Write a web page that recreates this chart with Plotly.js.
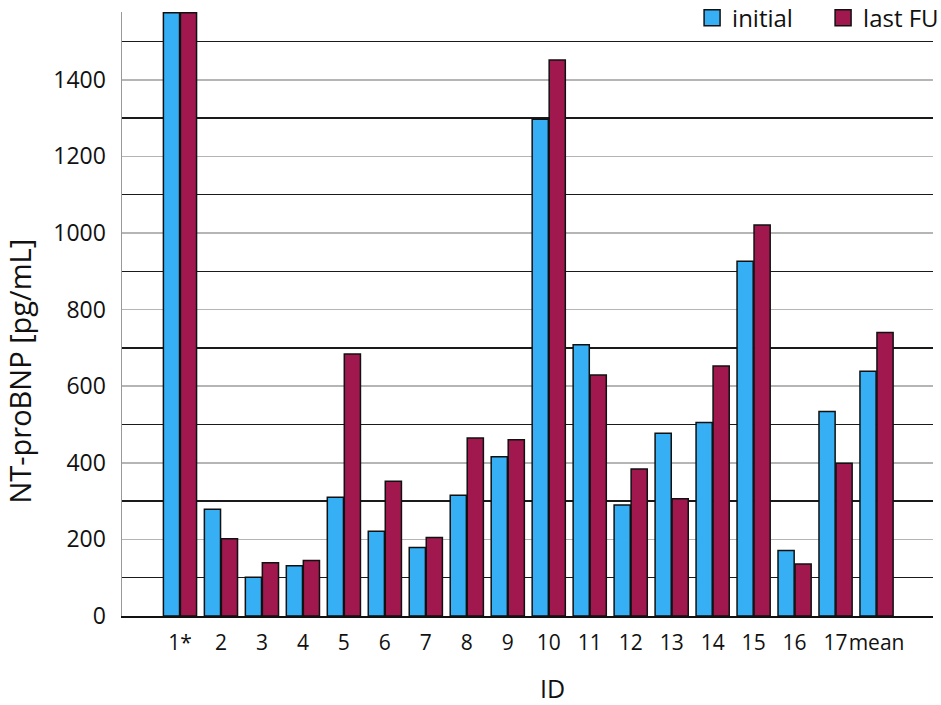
<!DOCTYPE html>
<html>
<head>
<meta charset="utf-8">
<script src="https://cdn.plot.ly/plotly-3.0.1.min.js"></script>
<style>html,body{margin:0;padding:0;background:#fff;}#chart{width:941px;height:705px;}</style>
</head>
<body>
<div id="chart"></div>
<script>
// Data
const ids = ["1*", "2", "3", "4", "5", "6", "7", "8", "9", "10", "11", "12", "13", "14", "15", "16", "17", "mean"];
const initialValues = [1575, 279, 101, 131, 310, 221, 179, 315, 416, 1297, 708, 290, 477, 505, 926, 171, 534, 639];
const lastFUValues  = [1575, 202, 139, 145, 684, 352, 205, 465, 460, 1452, 629, 384, 306, 653, 1021, 136, 399, 740];
const seriesNames = ["initial", "last FU"];
const yTickVals = [0, 200, 400, 600, 800, 1000, 1200, 1400];

const blue = "#36AFF5";
const red = "#A0184E";
const FONT = "Open Sans, Liberation Sans, sans-serif";

const traces = [
  {type: "bar", name: seriesNames[0], x: ids, y: initialValues, showlegend: false,
   marker: {color: blue, line: {color: "#111", width: 1.5}}},
  {type: "bar", name: seriesNames[1], x: ids, y: lastFUValues, showlegend: false,
   marker: {color: red, line: {color: "#111", width: 1.5}}},
  // legend entries
  {type: "scatter", mode: "markers", name: seriesNames[0], x: [null], y: [null],
   marker: {symbol: "square", size: 17, color: blue, line: {color: "#111", width: 1.5}}},
  {type: "scatter", mode: "markers", name: seriesNames[1], x: [null], y: [null],
   marker: {symbol: "square", size: 17, color: red, line: {color: "#111", width: 1.5}}}
];

const layout = {
  width: 941, height: 705,
  margin: {l: 122, r: 8, t: 12, b: 89, autoexpand: false},
  paper_bgcolor: "#fff", plot_bgcolor: "#fff",
  font: {family: FONT, size: 23, color: "#111"},
  barmode: "group",
  bargap: 0.17,
  bargroupgap: 0.05,
  showlegend: true,
  legend: {orientation: "h", x: 1.026, xanchor: "right", y: 1.027, yanchor: "top",
           entrywidth: 86, entrywidthmode: "pixels",
           bgcolor: "rgba(0,0,0,0)", font: {family: FONT, size: 24, color: "#111"},
           itemsizing: "trace", traceorder: "normal"},
  xaxis: {type: "category", range: [-1.415, 18.378], showgrid: false, zeroline: false,
          showline: true, linecolor: "#111", linewidth: 1.5, ticks: "", tickangle: 0,
          ticklabelstandoff: 7, tickfont: {family: FONT, size: 21, color: "#111"}, fixedrange: true},
  yaxis: {range: [0, 1577], tickvals: yTickVals, showgrid: true, gridcolor: "#b5b5b5", gridwidth: 1.5,
          zeroline: false, showline: true, linecolor: "#999", linewidth: 1.5, ticks: "",
          ticklabelstandoff: 10, tickfont: {family: FONT, size: 23, color: "#111"},
          minor: {dtick: 100, tick0: 0, showgrid: true, gridcolor: "#1a1a1a", gridwidth: 1.5},
          fixedrange: true},
  annotations: [
    {text: "NT-proBNP [pg/mL]", xref: "paper", yref: "paper", x: -0.126, y: 0.406,
     xanchor: "center", yanchor: "middle", textangle: -90, showarrow: false,
     font: {family: FONT, size: 29, color: "#111"}},
    {text: "ID", xref: "paper", yref: "paper", x: 0.531, y: -0.12,
     xanchor: "center", yanchor: "middle", showarrow: false,
     font: {family: FONT, size: 25, color: "#111"}}
  ]
};

Plotly.newPlot("chart", traces, layout, {displayModeBar: false, staticPlot: true});
</script>
</body>
</html>
